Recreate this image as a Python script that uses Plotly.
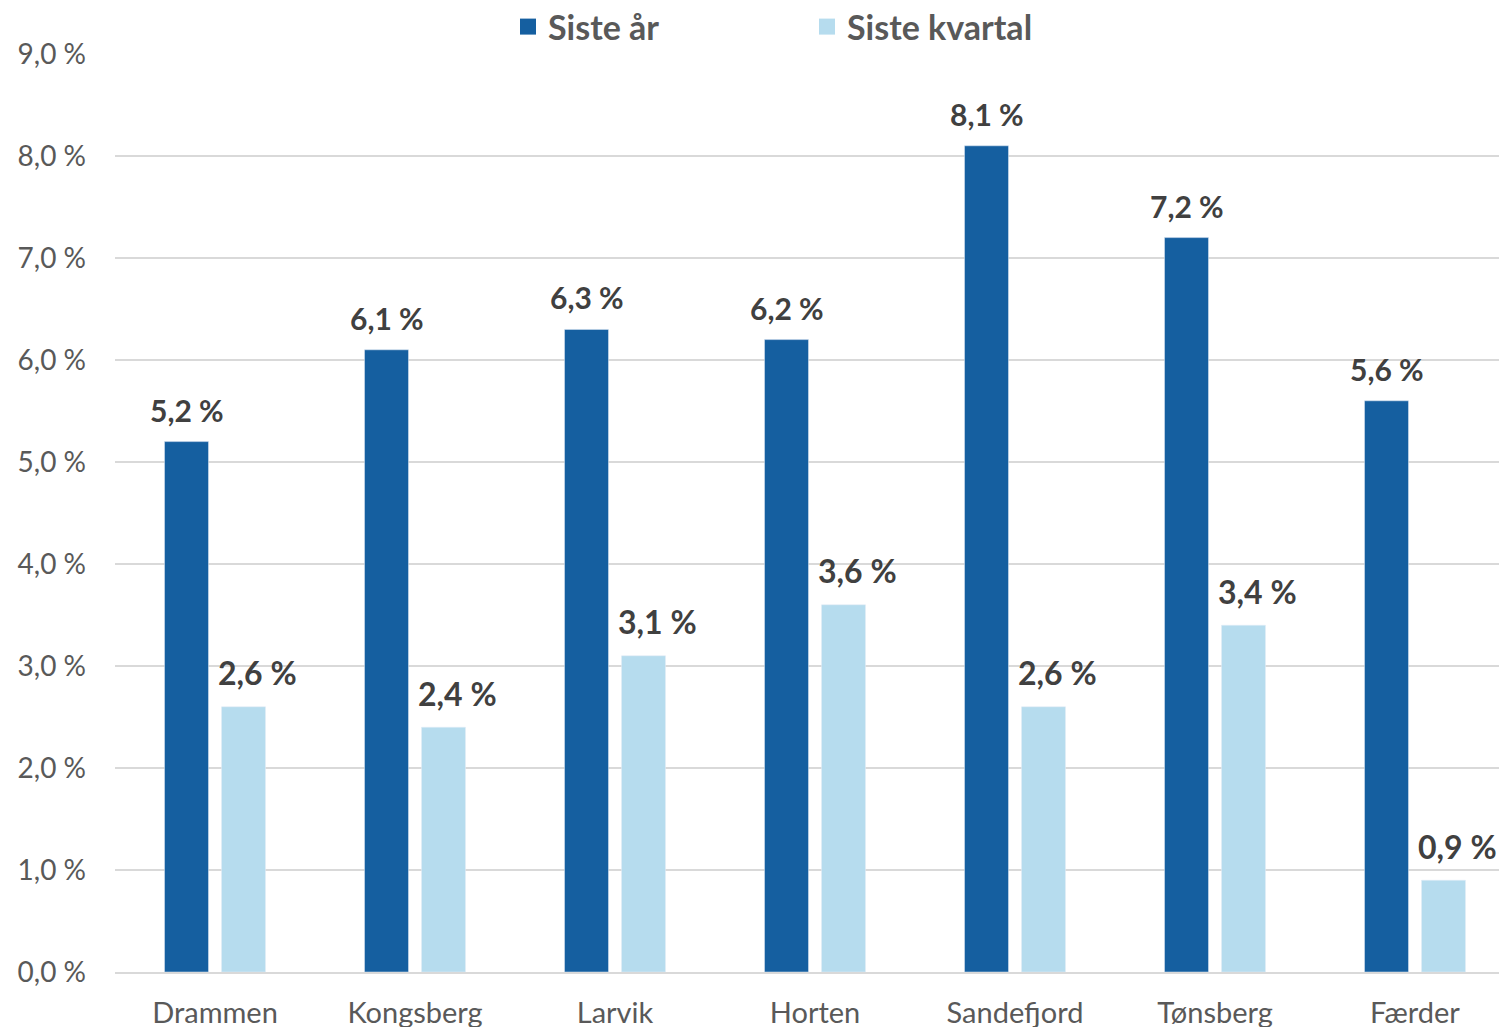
import plotly.graph_objects as go

# Municipalities and growth rates (percent)
kommuner = ["Drammen", "Kongsberg", "Larvik", "Horten", "Sandefjord", "Tønsberg", "Færder"]
siste_aar = [5.2, 6.1, 6.3, 6.2, 8.1, 7.2, 5.6]
siste_kvartal = [2.6, 2.4, 3.1, 3.6, 2.6, 3.4, 0.9]
y_ticks = [0, 1, 2, 3, 4, 5, 6, 7, 8, 9]

DARK = "#155FA0"
LIGHT = "#B6DCEE"
FONT = "Lato"


def pct(v):
    return f"{v:.1f}".replace(".", ",") + " %"


fig = go.Figure()
fig.add_trace(go.Bar(x=kommuner, y=siste_aar, name="Siste år",
                     marker=dict(color=DARK), showlegend=False))
fig.add_trace(go.Bar(x=kommuner, y=siste_kvartal, name="Siste kvartal",
                     marker=dict(color=LIGHT), showlegend=False))

# Legend entries with larger square swatches
for name, col in [("Siste år", DARK), ("Siste kvartal", LIGHT)]:
    fig.add_trace(go.Scatter(x=[None], y=[None], mode="markers", name=name,
                             marker=dict(symbol="square", size=16, color=col)))

# Value labels above bars
for k, v in zip(kommuner, siste_aar):
    fig.add_annotation(x=k, y=v, text=pct(v), showarrow=False, xshift=-28.5,
                       yanchor="middle", yshift=32,
                       font=dict(family=FONT, size=30, color="#404040", weight="bold"))
for k, v in zip(kommuner, siste_kvartal):
    fig.add_annotation(x=k, y=v, text=pct(v), showarrow=False, xshift=28.5 + 14,
                       yanchor="middle", yshift=34,
                       font=dict(family=FONT, size=32, color="#404040", weight="bold"))

fig.update_layout(
    width=1499, height=1027,
    margin=dict(l=115, r=0, t=54, b=55, autoexpand=False),
    paper_bgcolor="white", plot_bgcolor="white",
    barmode="group", bargap=0.43, bargroupgap=0.228,
    font=dict(family=FONT, color="#595959"),
    legend=dict(orientation="h", xref="container", yref="container",
                x=508 / 1499, xanchor="left", y=1 - 27 / 1027, yanchor="middle",
                entrywidth=254, entrywidthmode="pixels",
                font=dict(family=FONT, size=34, color="#595959", weight="bold")),
    xaxis=dict(type="category", range=[-0.5, 6.42], showgrid=False,
               showline=True, linecolor="#D9D9D9", linewidth=2,
               ticks="", ticklabelstandoff=14,
               tickfont=dict(family=FONT, size=29, color="#595959")),
    yaxis=dict(range=[0, 9], tickvals=y_ticks, ticktext=[pct(t) for t in y_ticks],
               showgrid=True, gridcolor="#D9D9D9", gridwidth=2,
               zeroline=False, showline=False, ticks="", ticklabelstandoff=28,
               tickfont=dict(family=FONT, size=28, color="#595959")),
)

fig.write_html("out.html")
